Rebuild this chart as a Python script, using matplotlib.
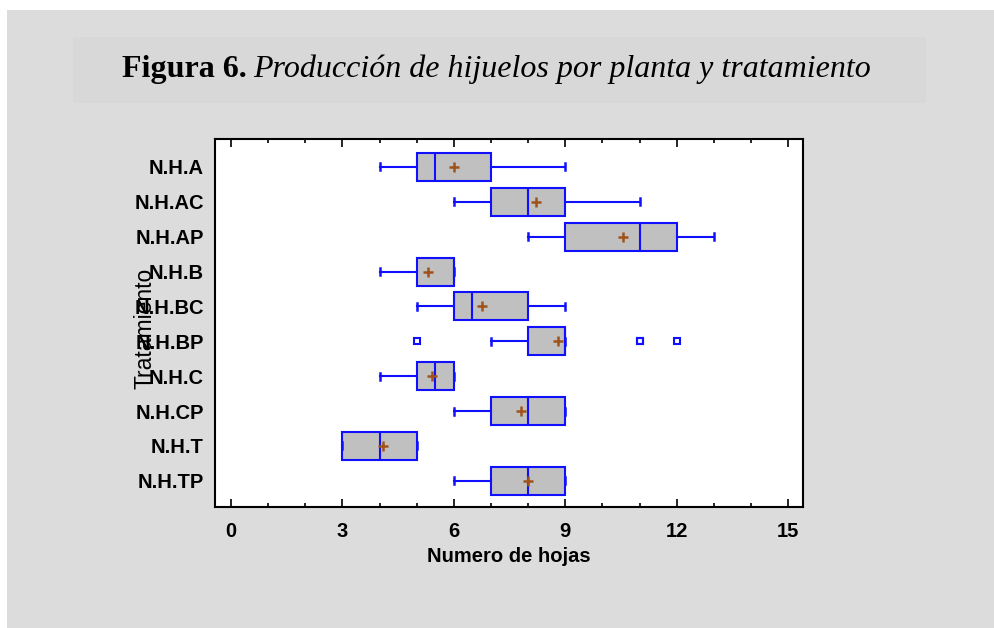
import matplotlib.pyplot as plt
from matplotlib.patches import Rectangle

# treatments, top to bottom
labels = ['N.H.A', 'N.H.AC', 'N.H.AP', 'N.H.B', 'N.H.BC',
          'N.H.BP', 'N.H.C', 'N.H.CP', 'N.H.T', 'N.H.TP']
whislo = [4, 6, 8, 4, 5, 7, 4, 6, 3, 6]
q1 = [5, 7, 9, 5, 6, 8, 5, 7, 3, 7]
med = [5.5, 8, 11, 6, 6.5, 9, 5.5, 8, 4, 8]
q3 = [7, 9, 12, 6, 8, 9, 6, 9, 5, 9]
whishi = [9, 11, 13, 6, 9, 9, 6, 9, 5, 9]
means = [6.0, 8.2, 10.55, 5.3, 6.75, 8.8, 5.4, 7.8, 4.1, 8.0]
fliers = [[], [], [], [], [], [5, 11, 11, 12], [], [], [], []]

blue = '#1010ff'

fig = plt.figure(figsize=(9.95, 6.28), dpi=100)
fig.patch.set_facecolor('white')

# grey panel and title box
fig.patches.append(Rectangle((7 / 995, -0.01), 1.1, 1.01 - 10 / 628,
                             transform=fig.transFigure, facecolor='#dcdcdc',
                             edgecolor='none', zorder=-2))
fig.patches.append(Rectangle((73 / 995, 1 - 103 / 628), (926 - 73) / 995, 66 / 628,
                             transform=fig.transFigure, facecolor='#d8d8d8',
                             edgecolor='none', zorder=-1))

ty = 1 - 69 / 628
t1 = fig.text(122 / 995, ty, 'Figura 6.', fontsize=23, fontweight='bold',
              family='Liberation Serif', va='center', ha='left')
fig.canvas.draw()
bb = t1.get_window_extent()
fig.text(bb.x1 / 995 + 6 / 995, ty, 'Producción de hijuelos por planta y tratamiento',
         fontsize=23, style='italic', family='Liberation Serif', va='center', ha='left')

ax = fig.add_axes([215 / 995, 1 - 507 / 628, (803 - 215) / 995, (507 - 139) / 628])

stats = []
for i in range(len(labels)):
    stats.append(dict(whislo=whislo[i], q1=q1[i], med=med[i], q3=q3[i],
                      whishi=whishi[i], mean=means[i], fliers=fliers[i]))

pos = list(range(len(labels)))
ax.bxp(stats, positions=pos, vert=False, widths=0.8, patch_artist=True,
       showmeans=True, capwidths=0.2,
       boxprops=dict(facecolor='#c0c0c0', edgecolor=blue, linewidth=1.5),
       medianprops=dict(color=blue, linewidth=1.5),
       whiskerprops=dict(color=blue, linewidth=1.5),
       capprops=dict(color=blue, linewidth=1.8),
       meanprops=dict(marker='+', markeredgecolor='#a0521a', markersize=7,
                      markeredgewidth=1.8),
       flierprops=dict(marker='s', markerfacecolor='none', markeredgecolor=blue,
                       markersize=5, markeredgewidth=1.5))

ax.set_ylim(9.75, -0.8)
ax.set_xlim(-0.43, 15.4)
ax.set_yticks(pos)
ax.set_yticklabels(labels, fontsize=14.5, fontweight='bold', family='Liberation Sans')
ax.set_xticks([0, 3, 6, 9, 12, 15])
ax.set_xticks(range(0, 16), minor=True)
for lab in ax.get_xticklabels():
    lab.set_fontweight('bold')
    lab.set_family('Liberation Sans')
    lab.set_fontsize(14.5)
ax.tick_params(axis='x', which='major', direction='in', length=6, width=1.2,
               top=True, pad=11)
ax.tick_params(axis='x', which='minor', direction='in', length=3, width=1.2, top=True)
ax.tick_params(axis='y', length=0, pad=8)
for s in ax.spines.values():
    s.set_linewidth(1.5)

ax.set_xlabel('Numero de hojas', fontsize=14.5, fontweight='bold',
              family='Liberation Sans', labelpad=4)
fig.text(145 / 995, 1 - 328 / 628, 'Tratamiento', rotation=90, fontsize=16.5,
         family='Liberation Sans', ha='center', va='center')

fig.savefig('out.png', dpi=100)
